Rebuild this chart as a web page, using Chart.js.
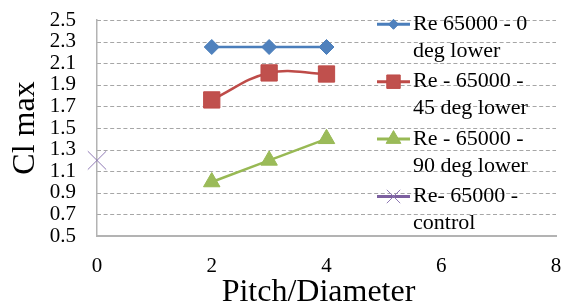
<!DOCTYPE html>
<html><head><meta charset="utf-8">
<script src="https://cdn.jsdelivr.net/npm/chart.js@4.4.1/dist/chart.umd.min.js"></script>
<style>html,body{margin:0;padding:0;background:#fff;}#wrap{width:570px;height:307px;}</style>
</head><body><div id="wrap"><canvas id="c" width="570" height="307"></canvas></div>
<script>
// ---- data ----
const pitchDiameter = [2, 3, 4];
const cl0deg = [2.25, 2.25, 2.25];
const cl45deg = [1.76, 2.01, 2.0];
const cl90deg = [1.0, 1.2, 1.4];
const controlPitch = [0];
const controlCl = [1.2];
const seriesNames = ["Re 65000 - 0 deg lower", "Re - 65000 - 45 deg lower", "Re - 65000 - 90 deg lower", "Re- 65000 - control"];
const legendLines = [["Re 65000 - 0", "deg lower"], ["Re - 65000 -", "45 deg lower"], ["Re - 65000 -", "90 deg lower"], ["Re- 65000 -", "control"]];
const xTicks = [0, 2, 4, 6, 8];
const yTicks = [0.5, 0.7, 0.9, 1.1, 1.3, 1.5, 1.7, 1.9, 2.1, 2.3, 2.5];
const xTitle = "Pitch/Diameter  ";
const yTitle = "Cl max";

const FONT = '"Liberation Serif", "Times New Roman", serif';
const pts = (xs, ys) => xs.map((x, i) => ({ x: x, y: ys[i] }));

// dashed horizontal gridlines, positioned by the library's y scale
const gridPlugin = {
  id: 'dashGrid',
  beforeDraw(chart) {
    const ctx = chart.ctx, ys = chart.scales.y, a = chart.chartArea;
    ctx.save();
    ctx.strokeStyle = '#A6A6A6';
    ctx.lineWidth = 1;
    ctx.setLineDash([4, 2.6]);
    ys.ticks.forEach(t => {
      if (t.value === ys.min) return;
      const y = Math.round(ys.getPixelForValue(t.value)) + 0.5;
      ctx.beginPath(); ctx.moveTo(a.left, y); ctx.lineTo(a.right, y); ctx.stroke();
    });
    ctx.restore();
  }
};

const legendPlugin = {
  id: 'sideLegend',
  afterDatasetsDraw(chart) {
    const ctx = chart.ctx;
    chart.data.datasets.forEach((ds, i) => {
      const y = 24.3 + i * 57.4;
      ctx.save();
      ctx.strokeStyle = ds.borderColor;
      ctx.lineWidth = 3;
      ctx.beginPath(); ctx.moveTo(377, y); ctx.lineTo(410, y); ctx.stroke();
      ctx.fillStyle = ds.pointBackgroundColor;
      ctx.strokeStyle = ds.pointBorderColor;
      ctx.lineWidth = 1;
      Chart.helpers.drawPoint(ctx, { pointStyle: ds.pointStyle, radius: ds.legendRadius, borderWidth: 1, rotation: 0 }, 393.5, y);
      ctx.fillStyle = '#000';
      ctx.font = '22px ' + FONT;
      ctx.textBaseline = 'middle';
      ctx.textAlign = 'left';
      legendLines[i].forEach((t, j) => ctx.fillText(t, 413, y + j * 26.8));
      ctx.restore();
    });
  }
};

new Chart(document.getElementById('c'), {
  type: 'line',
  data: {
    datasets: [
      { label: seriesNames[0], data: pts(pitchDiameter, cl0deg), borderColor: '#4A7EBB', pointBackgroundColor: '#4F81BD', pointBorderColor: '#4A7EBB',
        pointStyle: 'rectRot', pointRadius: 7.5, pointBorderWidth: 1, borderWidth: 2.5, tension: 0, legendRadius: 5 },
      { label: seriesNames[1], data: pts(pitchDiameter, cl45deg), borderColor: '#BE4B48', pointBackgroundColor: '#C0504D', pointBorderColor: '#BE4B48',
        pointStyle: 'rect', pointRadius: 11.5, pointBorderWidth: 1, borderWidth: 2.5, tension: 0.4, legendRadius: 9.5 },
      { label: seriesNames[2], data: pts(pitchDiameter, cl90deg), borderColor: '#98B954', pointBackgroundColor: '#9BBB59', pointBorderColor: '#98B954',
        pointStyle: 'triangle', pointRadius: 9.5, pointBorderWidth: 1, borderWidth: 2.5, tension: 0, legendRadius: 8.5 },
      { label: seriesNames[3], data: pts(controlPitch, controlCl), borderColor: '#7D60A0', pointBackgroundColor: '#8064A2', pointBorderColor: '#8E78B4',
        pointStyle: 'crossRot', pointRadius: 13, pointBorderWidth: 1, borderWidth: 2.5, showLine: false, clip: false, legendRadius: 9.5 }
    ]
  },
  options: {
    responsive: false, animation: false, devicePixelRatio: 1,
    layout: { padding: { top: 20, right: 4, left: 0, bottom: 0 } },
    plugins: { legend: { display: false }, tooltip: { enabled: false } },
    scales: {
      x: {
        type: 'linear', min: 0, max: 8,
        afterBuildTicks: s => { s.ticks = xTicks.map(v => ({ value: v })); },
        afterFit: s => { s.height = 71; s.paddingLeft = 0; s.paddingRight = 0; },
        grid: { display: false, drawTicks: false },
        border: { display: true, color: '#B3B3B3', width: 2 },
        ticks: { color: '#000', font: { family: FONT, size: 21 }, padding: 18, maxRotation: 0, autoSkip: false },
        title: { display: true, text: xTitle, color: '#000', font: { family: FONT, size: 32, lineHeight: 0.9 }, padding: { top: 0, bottom: 0 } }
      },
      y: {
        type: 'linear', min: 0.5, max: 2.5,
        afterBuildTicks: s => { s.ticks = yTicks.map(v => ({ value: v })); },
        afterFit: s => { s.width = 97; s.paddingTop = 0; s.paddingBottom = 0; },
        grid: { display: false, drawTicks: false },
        border: { display: true, color: '#B3B3B3', width: 1.5 },
        ticks: { color: '#000', font: { family: FONT, size: 21 }, padding: 21, autoSkip: false, callback: v => Number(v).toFixed(1) },
        title: { display: true, text: yTitle, color: '#000', font: { family: FONT, size: 32, lineHeight: 0.9 }, padding: { top: 11, bottom: 0 } }
      }
    }
  },
  plugins: [gridPlugin, legendPlugin]
});
</script>
</body></html>
